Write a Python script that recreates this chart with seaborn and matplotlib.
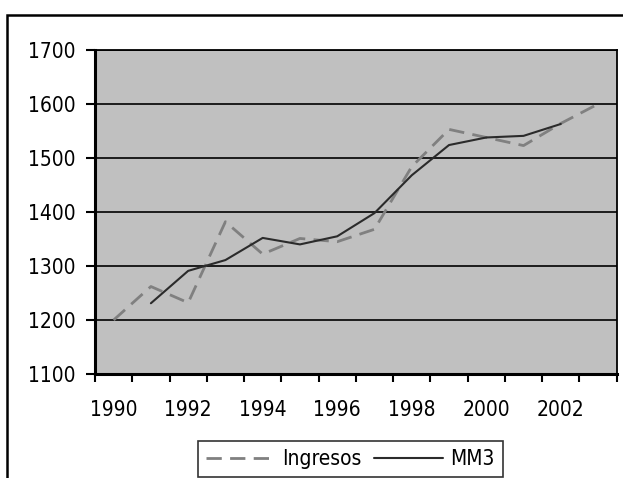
import numpy as np
import pandas as pd
import matplotlib
matplotlib.use("Agg")
import matplotlib.pyplot as plt
import seaborn as sns
from matplotlib.patches import Rectangle

years = list(range(1990, 2004))
ingresos = [1200, 1262, 1232, 1382, 1322, 1351, 1345, 1368, 1484, 1553, 1538, 1523, 1564, 1600]
mm3 = [np.nan, 1231, 1291, 1311, 1352, 1340, 1355, 1398, 1468, 1524, 1538, 1541, 1563, np.nan]
year_labels = ["1990", "1992", "1994", "1996", "1998", "2000", "2002"]

sns.set_style("white")
plt.rcParams["font.family"] = ["DejaVu Sans"]
plt.rcParams["font.stretch"] = "condensed"
plt.rcParams["text.color"] = "black"
plt.rcParams["xtick.color"] = "black"
plt.rcParams["ytick.color"] = "black"
fs = 15

df = pd.DataFrame({"pos": np.arange(len(years)), "Ingresos": ingresos, "MM3": mm3})

fig = plt.figure(figsize=(6.23, 4.78), dpi=100)
W, H = 623, 478
ax = fig.add_axes([95 / W, 1 - 374 / H, (616.7 - 95) / W, 324 / H])
ax.set_facecolor("#C0C0C0")

sns.lineplot(data=df, x="pos", y="Ingresos", ax=ax, color="#808080", lw=2,
             dashes=False, label="Ingresos")
ax.lines[-1].set_dashes((5.5, 3))
sns.lineplot(data=df, x="pos", y="MM3", ax=ax, color="#2b2b2b", lw=1.5, label="MM3")

ax.set_xlim(-0.5, len(years) - 0.5)
ax.set_ylim(1100, 1700)
ax.set_yticks(range(1100, 1701, 100))
ax.yaxis.grid(True, color="black", lw=1.2)
for l in ax.get_ygridlines():
    l.set_zorder(1.5)

ax.set_xticks(np.arange(-0.5, len(years), 1))
ax.set_xticklabels([])
ax.set_xticks(np.arange(0, len(years), 2), minor=True)
ax.set_xticklabels(year_labels, minor=True)
ax.tick_params(axis="x", which="major", direction="out", length=5.5, width=1.5, color="black")
ax.tick_params(axis="x", which="minor", length=0, pad=19, labelsize=fs, labelcolor="black")
ax.tick_params(axis="y", direction="out", length=6.5, width=1.5, color="black", pad=7.5,
               labelsize=fs, labelcolor="black")
ax.tick_params(left=True, bottom=True)
ax.set_xlabel("")
ax.set_ylabel("")

for s in ax.spines.values():
    s.set_color("black")
    s.set_linewidth(1.3)
ax.spines["left"].set_linewidth(2.2)
ax.spines["bottom"].set_linewidth(2.2)

leg = ax.legend(loc="center", bbox_to_anchor=(350.5 / W, 1 - 459 / H),
                bbox_transform=fig.transFigure, ncol=2, frameon=True, fancybox=False,
                edgecolor="black", fontsize=fs, handlelength=3.3, handletextpad=0.35,
                columnspacing=0.6, borderpad=0.4, borderaxespad=0, labelcolor="black")
leg.get_frame().set_linewidth(1.2)

fig.patches.append(Rectangle((7.3 / W, -0.1), 1.2, 1 - 15 / H + 0.1, transform=fig.transFigure,
                             fill=False, edgecolor="black", lw=1.8))

fig.savefig("out.png", dpi=100)
